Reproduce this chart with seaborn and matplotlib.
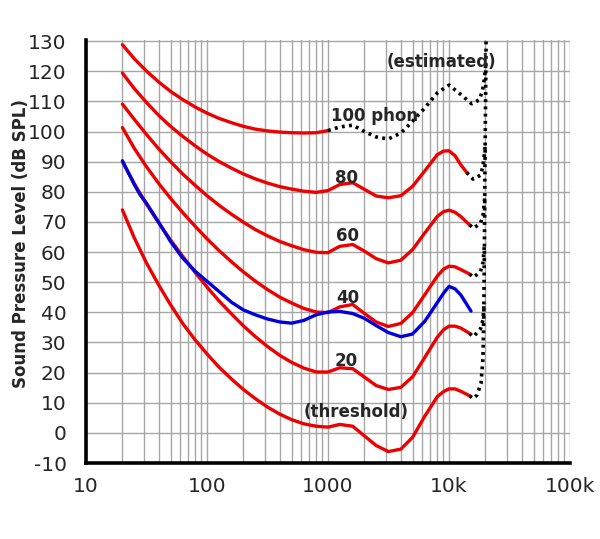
import numpy as np
import pandas as pd
import matplotlib
matplotlib.use("Agg")
import matplotlib.pyplot as plt
import seaborn as sns
from matplotlib.ticker import FixedLocator, LogLocator, NullFormatter

# Equal-loudness contours
freqs = [20, 25, 31.5, 40, 50, 63, 80, 100, 125, 160, 200, 250, 315, 400, 500,
         630, 800, 1000, 1250, 1600, 2000, 2500, 3150, 4000, 5000, 6300, 8000,
         9000, 10000, 11200, 12500]

phon_100 = [128.8, 124.2, 120.1, 116.4, 113.3, 110.6, 108.1, 106.1, 104.4, 102.9,
            101.7, 100.8, 100.2, 99.8, 99.6, 99.5, 99.6, 100.3]
phon_80 = [119.4, 114.3, 109.7, 105.3, 101.7, 98.4, 95.2, 92.5, 90.1, 87.8, 85.9,
           84.3, 82.9, 81.7, 80.9, 80.2, 79.8, 80.4, 82.4, 83.0, 80.8, 78.6, 78.0,
           78.7, 81.8, 86.9, 92.3, 93.5, 93.6, 92.0, 89.0]
phon_60 = [109.1, 104.1, 99.1, 94.2, 90.0, 85.9, 82.1, 78.7, 75.6, 72.5, 69.9,
           67.5, 65.4, 63.5, 62.1, 60.8, 59.9, 59.8, 61.9, 62.5, 60.3, 57.8, 56.4,
           57.3, 60.8, 66.3, 71.8, 73.4, 73.9, 73.2, 71.8]
phon_40 = [101.3, 94.5, 88.4, 82.7, 77.8, 73.1, 68.5, 64.4, 60.6, 56.7, 53.4,
           50.4, 47.6, 45.0, 43.1, 41.3, 40.1, 39.9, 41.8, 42.6, 39.6, 36.8, 35.3,
           36.3, 39.9, 45.8, 52.0, 54.3, 55.3, 55.1, 54.2]
phon_20 = [90.0, 82.8, 76.0, 69.6, 64.0, 58.6, 53.2, 48.4, 43.9, 39.4, 35.5, 32.0,
           28.7, 25.7, 23.4, 21.5, 20.2, 20.2, 21.6, 21.3, 18.5, 15.7, 14.4, 15.1,
           18.6, 25.0, 31.7, 34.2, 35.4, 35.4, 34.8]
threshold = [74.0, 64.8, 56.5, 49.0, 42.5, 36.3, 30.8, 26.2, 21.9, 17.8, 14.4,
             11.4, 8.6, 6.2, 4.4, 3.0, 2.2, 1.9, 2.8, 2.2, -1.0, -4.2, -6.2, -5.4,
             -1.5, 5.5, 12.0, 13.7, 14.6, 14.6, 13.8]

# last point of each red curve (the picture runs a bit past 12.5k)
end_f = {"80": 14000, "60": 14800, "40": 14800, "20": 14800, "thr": 14800}
end_v = {"80": 86.4, "60": 69.0, "40": 52.7, "20": 33.0, "thr": 12.3}

# older 40 phon contour (blue)
blue_f = [20, 25, 28, 31.5, 40, 50, 63, 80, 100, 125, 160, 200, 250, 315, 400,
          500, 630, 800, 1000, 1250, 1600, 2000, 2500, 3150, 4000, 5000, 6300,
          8000, 9000, 10000, 11200, 12500, 15200]
blue_v = [90.3, 82.5, 79.0, 76.3, 69.8, 63.5, 58.0, 53.6, 50.3, 47.0, 43.3, 40.8,
          39.2, 37.8, 36.8, 36.4, 37.3, 39.2, 40.1, 40.3, 39.6, 38.0, 35.6, 33.3,
          31.9, 32.8, 37.0, 43.2, 46.3, 48.6, 47.8, 45.8, 40.4]

# estimated (dotted) parts
est_100_f = [1000, 1250, 1600, 2000, 2500, 3150, 4000, 5000, 6300, 8000, 10000,
             12500, 15400, 17800, 18900, 19700, 20100]
est_100_v = [100.3, 101.5, 102.1, 100.0, 98.2, 97.5, 99.5, 103.4, 107.8, 112.8,
             115.4, 112.3, 109.2, 110.5, 113.5, 118.0, 122.0]
est_80_f = [14000, 15800, 18200, 19100, 19900]
est_80_v = [86.4, 84.2, 85.5, 88.5, 95.0]
est_60_f = [14800, 15900, 18200, 19100, 19750]
est_60_v = [69.0, 67.9, 69.5, 72.0, 78.0]
est_40_f = [14800, 15900, 18200, 19100, 19600]
est_40_v = [52.7, 51.6, 53.5, 56.5, 62.0]
est_20_f = [14800, 15900, 18200, 19100, 19400]
est_20_v = [33.0, 31.9, 34.5, 37.5, 42.0]
est_thr_f = [14800, 15900, 17000, 18400, 19100, 19400, 19600, 19800, 20000, 20300]
est_thr_v = [12.3, 11.4, 12.5, 16.5, 25.0, 40.0, 60.0, 85.0, 105.0, 135.0]

y_ticks = list(range(-10, 131, 10))
x_ticks = [10, 100, 1000, 10000, 100000]
x_labels = ["10", "100", "1000", "10k", "100k"]

sns.set_style("white")
plt.rcParams['font.family'] = ['DejaVu Sans']
plt.rcParams['axes.unicode_minus'] = False

fig = plt.figure(figsize=(6, 5.39), dpi=100)
ax = fig.add_axes([0.1433, 0.141, 0.8067, 0.785])

red = '#ee0000'
lw = 2.4

curves = [
    (freqs[:len(phon_100)], phon_100),
    (freqs + [end_f["80"]], phon_80 + [end_v["80"]]),
    (freqs + [end_f["60"]], phon_60 + [end_v["60"]]),
    (freqs + [end_f["40"]], phon_40 + [end_v["40"]]),
    (freqs + [end_f["20"]], phon_20 + [end_v["20"]]),
    (freqs + [end_f["thr"]], threshold + [end_v["thr"]]),
]
for f, v in curves:
    sns.lineplot(x=f, y=v, ax=ax, color=red, lw=lw, estimator=None, sort=False, zorder=3)

sns.lineplot(x=blue_f, y=blue_v, ax=ax, color='#0000dd', lw=lw, estimator=None,
             sort=False, zorder=4)

dotted = [(est_100_f, est_100_v), (est_80_f, est_80_v), (est_60_f, est_60_v),
          (est_40_f, est_40_v), (est_20_f, est_20_v), (est_thr_f, est_thr_v)]
for f, v in dotted:
    sns.lineplot(x=f, y=v, ax=ax, color='black', lw=2.6, estimator=None, sort=False,
                 linestyle=(0, (0.8, 1.2)), zorder=3)

ax.set_xscale('log')
ax.set_xlim(10, 100000)
ax.set_ylim(-10, 130.4)
ax.xaxis.set_major_locator(FixedLocator(x_ticks))
ax.set_xticklabels(x_labels)
ax.xaxis.set_minor_locator(LogLocator(base=10, subs=range(2, 10)))
ax.xaxis.set_minor_formatter(NullFormatter())
ax.set_yticks(y_ticks)
ax.set_yticklabels([str(t) for t in y_ticks])
ax.tick_params(axis='both', which='both', length=0, labelsize=14.5, pad=10)
ax.tick_params(axis='y', pad=14)

ax.grid(True, which='both', axis='x', color='#a6a6a6', lw=1.0)
ax.grid(True, which='major', axis='y', color='#a6a6a6', lw=1.0)
ax.set_axisbelow(True)

for s in ['top', 'right']:
    ax.spines[s].set_visible(False)
for s in ['left', 'bottom']:
    ax.spines[s].set_color('black')
    ax.spines[s].set_linewidth(2.6)

ax.set_ylabel('Sound Pressure Level (dB SPL)', fontsize=12, fontweight='bold')
ax.yaxis.set_label_coords(-0.134, 0.518)
ax.yaxis.label.set_verticalalignment('center')
ax.set_xlabel('')

lab = dict(fontsize=12, fontweight='bold', ha='center', va='center', zorder=5)
ax.text(2420, 105.0, '100 phon', **lab)
ax.text(1435, 84.6, '80', **lab)
ax.text(1445, 65.3, '60', **lab)
ax.text(1445, 44.9, '40', **lab)
ax.text(1410, 23.8, '20', **lab)
ax.text(1700, 6.9, '(threshold)', **lab)
ax.text(8590, 123.0, '(estimated)', **lab)

fig.savefig('out.png', dpi=100)
